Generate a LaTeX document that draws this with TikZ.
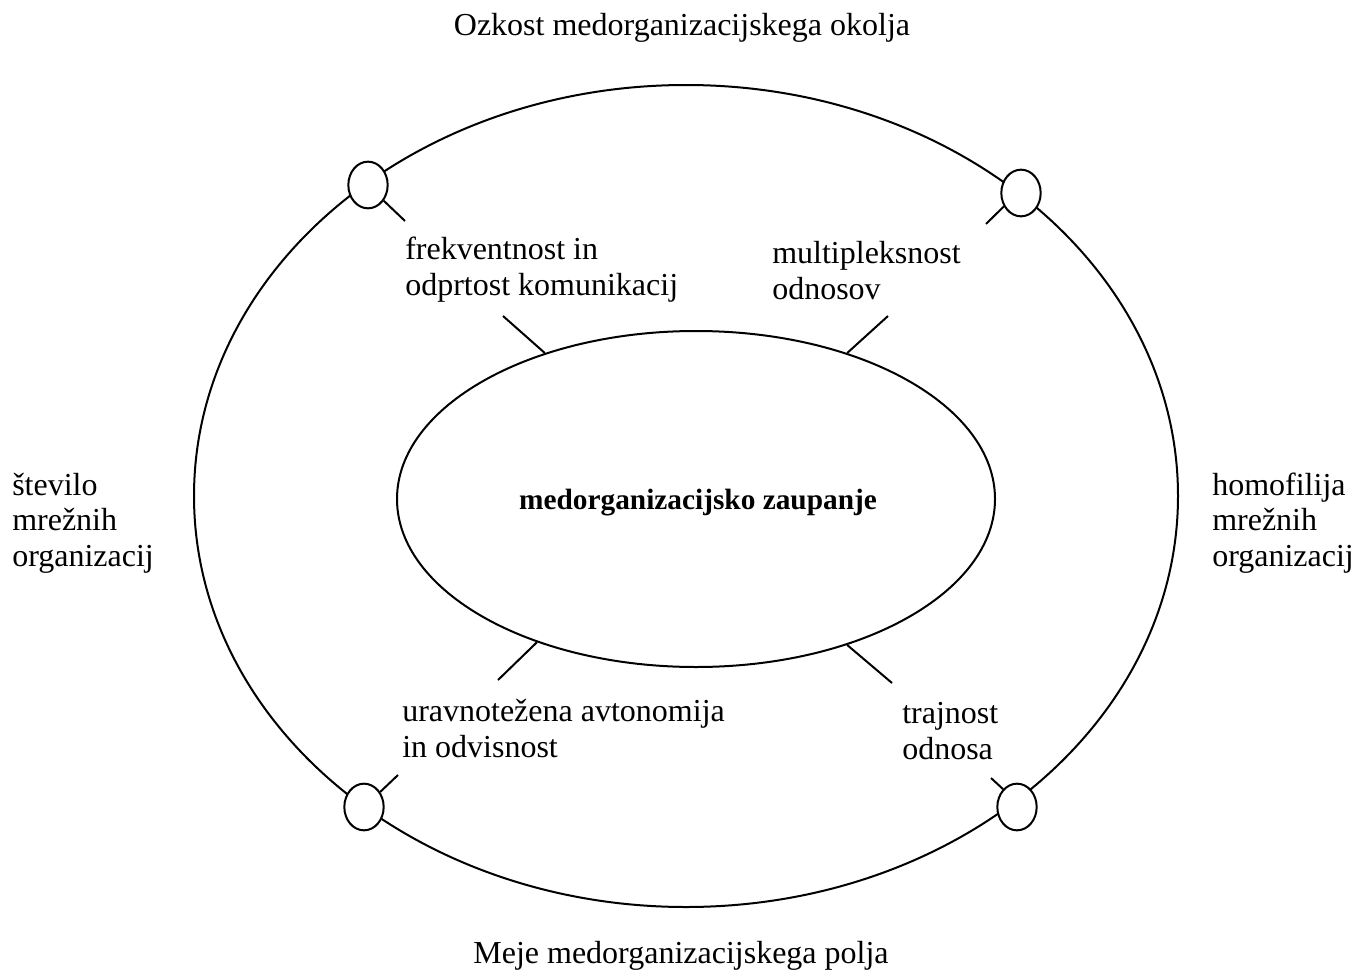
\documentclass[tikz,border=0pt]{standalone}
\usepackage{fontspec}
\setmainfont{Liberation Serif}
\usetikzlibrary{shapes.geometric}
\tikzset{
  ring/.style={ellipse, draw, line width=1.5pt, inner sep=0pt},
  knot/.style={ellipse, draw, fill=white, line width=1.5pt, inner sep=0pt, minimum width=29.5pt, minimum height=35pt},
  tie/.style={line width=1.5pt},
  lbl/.style={font=\fontsize{24pt}{27pt}\selectfont, inner sep=0pt, align=left, anchor=base west},
  lbltri/.style={font=\fontsize{24pt}{26.3pt}\selectfont, inner sep=0pt, align=left, anchor=base west},
  ttl/.style={font=\fontsize{24pt}{27pt}\selectfont, inner sep=0pt, anchor=base},
}
\begin{document}
\begin{tikzpicture}[x=0.75pt, y=-0.75pt]
\useasboundingbox (0,0) rectangle (1367,974);
% outer and inner ellipses
\node[ring, minimum width=738pt, minimum height=616.5pt] (outer) at (686,496) {};
\node[ring, minimum width=448.5pt, minimum height=252pt] (inner) at (696,499) {};
% small knots on the outer ellipse
\node[knot] (k1) at (368,185) {};
\node[knot] (k2) at (1021,193) {};
\node[knot] (k3) at (364,807) {};
\node[knot] (k4) at (1017,807) {};
% free ends
\coordinate (i1) at (503,316);
\coordinate (i2) at (888,316);
\coordinate (i3) at (498,680);
\coordinate (i4) at (892,683);
\coordinate (o1) at (405,221);
\coordinate (o2) at (986,224);
\coordinate (o3) at (398,775);
\coordinate (o4) at (991,778);
% ties
\draw[tie] (inner.136.3) -- (i1);
\draw[tie] (inner.44.1) -- (i2);
\draw[tie] (inner.222.3) -- (i3);
\draw[tie] (inner.316.9) -- (i4);
\draw[tie] (k1.-45) -- (o1);
\draw[tie] (k2.218) -- (o2);
\draw[tie] (k3.43) -- (o3);
\draw[tie] (k4.128) -- (o4);
% labels
\node[ttl] (top) at (682,36) {Ozkost medorganizacijskega okolja};
\node[ttl] (bottom) at (681,963) {Meje medorganizacijskega polja};
\node[font=\fontsize{22pt}{26pt}\selectfont\bfseries, inner sep=0pt, anchor=base] (core) at (698,509) {medorganizacijsko zaupanje};
\node[lbl] (l1) at (405,295) {frekventnost in\\odprtost komunikacij};
\node[lbl] (l2) at (772,299) {multipleksnost\\odnosov};
\node[lbltri] (l3) at (12,566) {število\\mrežnih\\organizacij};
\node[lbltri] (l4) at (1212,566) {homofilija\\mrežnih\\organizacij};
\node[lbl] (l5) at (402,757) {uravnotežena avtonomija\\in odvisnost};
\node[lbl] (l6) at (902,759) {trajnost\\odnosa};
\end{tikzpicture}
\end{document}
